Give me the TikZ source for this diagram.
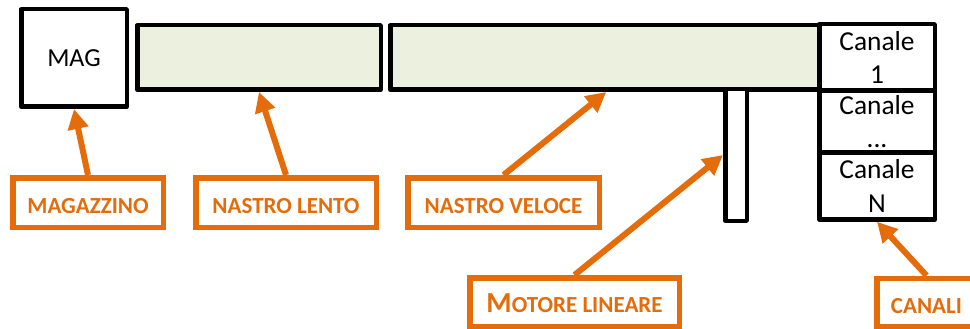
\documentclass[tikz,border=0pt]{standalone}
\usepackage{fontspec}
\setmainfont{Carlito}
\usetikzlibrary{arrows.meta}
\definecolor{org}{HTML}{E46C0A}
\definecolor{belt}{HTML}{EBF1DE}
\begin{document}
\begin{tikzpicture}[x=1pt,y=-1pt,
  blk/.style={draw=black, line width=4.5pt, line join=round, inner sep=0pt, rectangle},
  lbl/.style={draw=org, line width=5.5pt, fill=white, inner sep=0pt, text=org,
    text height=21.4pt, text depth=0pt,
    font=\fontsize{23}{27}\selectfont\bfseries},
  arr/.style={draw=org, line width=6pt, -{Triangle[length=20pt,width=20pt]}},
  cell/.style={blk, fill=white, minimum width=115.5pt, align=center,
    font=\fontsize{27.4}{33.4}\selectfont}]
\useasboundingbox (0,0) rectangle (970,329);

% machine parts
\node[blk, fill=white, minimum width=105.5pt, minimum height=97.5pt,
  font=\fontsize{26}{30}\selectfont] (mag) at (74,58) {MAG};
\node[blk, fill=belt, minimum width=243.5pt, minimum height=64.5pt] (lento) at (259,57.5) {};
\node[blk, fill=belt, minimum width=429pt, minimum height=64.5pt] (veloce) at (604.75,57.5) {};
\node[blk, fill=white, minimum width=21.5pt, minimum height=131.5pt] (motor) at (736,155) {};
\node[cell, minimum height=66.3pt] (can1) at (877,57.35) {Canale\\1};
\node[cell, minimum height=62pt] (can2) at (877,121.5) {Canale\\...};
\node[cell, minimum height=67pt] (canN) at (877,186) {Canale\\N};

% labels
\node[lbl, minimum width=150.5pt, minimum height=49.5pt] (lmag) at (88,202.5) {MAGAZZINO};
\node[lbl, minimum width=180.5pt, minimum height=49.5pt] (llento) at (286,202.5) {NASTRO LENTO};
\node[lbl, minimum width=191.5pt, minimum height=49.5pt] (lveloce) at (503.5,202.5) {NASTRO VELOCE};
\node[lbl, minimum width=209.5pt, minimum height=48.5pt] (lmotor) at (574.5,302) {{\fontsize{29}{30}\selectfont M}OTORE LINEARE};
\node[lbl, minimum width=99.5pt, minimum height=48.5pt] (lcanali) at (926.5,302.5) {CANALI};

% arrows
\draw[arr] (lmag.north) -- (mag.south);
\draw[arr] (llento.north) -- (lento.south);
\draw[arr] (lveloce.north) -- ([xshift=1.5pt]veloce.south);
\draw[arr] (lmotor.north) -- (motor.west);
\draw[arr] (lcanali.north) -- (canN.south);
\end{tikzpicture}
\end{document}
